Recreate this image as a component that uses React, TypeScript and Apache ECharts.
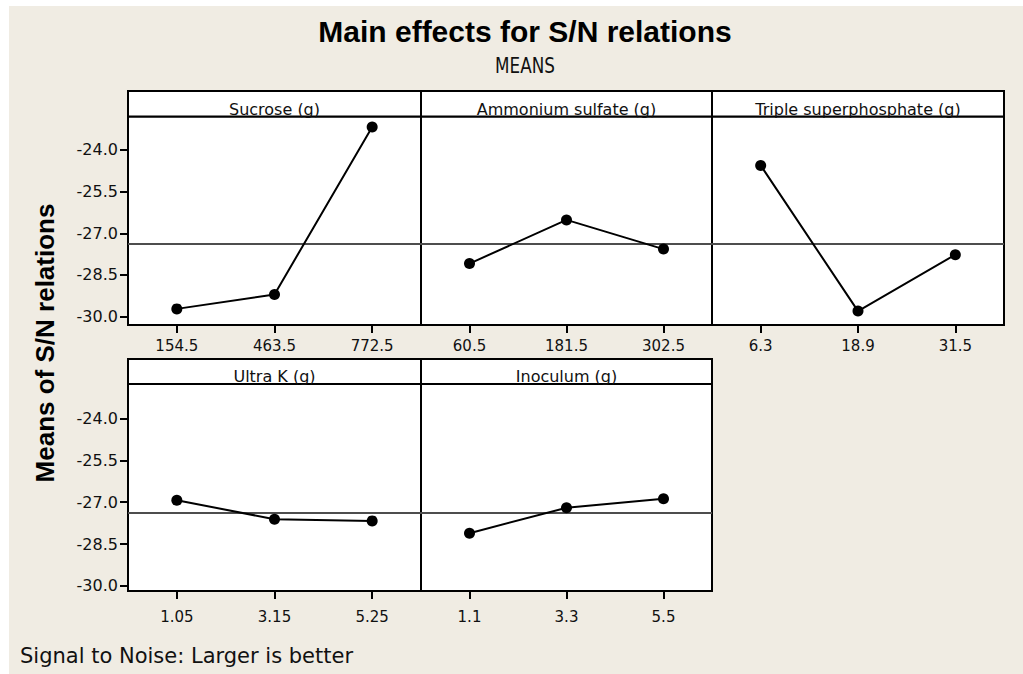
import React, { useEffect, useRef } from "react";
import * as echarts from "echarts";

// Factor names and their three levels
const factorNames = [
  "Sucrose (g)",
  "Ammonium sulfate (g)",
  "Triple superphosphate (g)",
  "Ultra K (g)",
  "Inoculum (g)",
];
const sucroseLevels = ["154.5", "463.5", "772.5"];
const ammoniumLevels = ["60.5", "181.5", "302.5"];
const tripleLevels = ["6.3", "18.9", "31.5"];
const ultraKLevels = ["1.05", "3.15", "5.25"];
const inoculumLevels = ["1.1", "3.3", "5.5"];

// Mean S/N ratio at each level
const sucroseMeans = [-29.72, -29.2, -23.18];
const ammoniumMeans = [-28.09, -26.52, -27.57];
const tripleMeans = [-24.56, -29.8, -27.77];
const ultraKMeans = [-26.93, -27.61, -27.67];
const inoculumMeans = [-28.11, -27.2, -26.88];

// Y tick labels
const yTicks = [-30.0, -28.5, -27.0, -25.5, -24.0];

const levelSets = [sucroseLevels, ammoniumLevels, tripleLevels, ultraKLevels, inoculumLevels];
const meanSets = [sucroseMeans, ammoniumMeans, tripleMeans, ultraKMeans, inoculumMeans];

const allMeans = meanSets.flat();
const grandMean = allMeans.reduce((a, b) => a + b, 0) / allMeans.length;

// Panel layout (pixels)
const COL_X = [128, 421, 712, 1004];
const ROWS = [
  { header: 91, top: 116.5, bottom: 325, min: -30.3, max: -22.8, labelMargin: 13 },
  { header: 359, top: 384, bottom: 591, min: -30.18, max: -22.77, labelMargin: 18 },
];
const panelPos = [
  { col: 0, row: 0 },
  { col: 1, row: 0 },
  { col: 2, row: 0 },
  { col: 0, row: 1 },
  { col: 1, row: 1 },
];

const FONT = "'DejaVu Sans', Verdana, sans-serif";
const BOLD_FONT = "'Liberation Sans', Arial, sans-serif";
const BG = "#f0ece3";

export default function App() {
  const ref = useRef<HTMLDivElement>(null);

  useEffect(() => {
    if (!ref.current) return;
    const chart = echarts.init(ref.current, undefined, { renderer: "svg" });

    const grids: any[] = [];
    const xAxes: any[] = [];
    const yAxes: any[] = [];
    const series: any[] = [];
    const graphics: any[] = [
      { type: "rect", shape: { x: 0, y: 0, width: 1023, height: 6 }, style: { fill: "#fff" }, silent: true },
      { type: "rect", shape: { x: 0, y: 0, width: 9, height: 674 }, style: { fill: "#fff" }, silent: true },
    ];

    panelPos.forEach((p, i) => {
      const r = ROWS[p.row];
      const left = COL_X[p.col];
      const width = COL_X[p.col + 1] - left;
      grids.push({
        left,
        top: r.top,
        width,
        height: r.bottom - r.top,
        show: true,
        backgroundColor: "#fff",
        borderColor: "#000",
        borderWidth: 2,
      });
      xAxes.push({
        type: "category",
        gridIndex: i,
        data: levelSets[i],
        boundaryGap: true,
        axisLine: { show: true, lineStyle: { color: "#000", width: 2 } },
        axisTick: { show: true, alignWithLabel: true, length: 8, lineStyle: { color: "#000", width: 2 } },
        axisLabel: { margin: r.labelMargin, fontSize: 15, color: "#111", fontFamily: FONT },
        splitLine: { show: false },
      });
      const showY = p.col === 0;
      yAxes.push({
        type: "value",
        gridIndex: i,
        min: r.min,
        max: r.max,
        axisLine: { show: showY, lineStyle: { color: "#000", width: 2 } },
        axisTick: { show: showY, length: 8, customValues: yTicks, lineStyle: { color: "#000", width: 2 } },
        axisLabel: {
          show: showY,
          customValues: yTicks,
          margin: 10,
          fontSize: 16,
          color: "#111",
          fontFamily: FONT,
          formatter: (v: number) => v.toFixed(1),
        },
        splitLine: { show: false },
      });
      series.push({
        type: "line",
        xAxisIndex: i,
        yAxisIndex: i,
        data: meanSets[i],
        symbol: "circle",
        symbolSize: 11,
        itemStyle: { color: "#000" },
        lineStyle: { color: "#000", width: 2 },
        markLine: {
          silent: true,
          symbol: "none",
          label: { show: false },
          lineStyle: { color: "#4d4d4d", width: 1.8, type: "solid" },
          data: [{ yAxis: grandMean }],
          z: 1,
        },
        z: 3,
      });
      // header strip with factor name
      graphics.push({
        type: "rect",
        shape: { x: left, y: r.header, width, height: r.top - r.header },
        style: { fill: "#fff", stroke: "#000", lineWidth: 2 },
        z: 1,
      });
      graphics.push({
        type: "text",
        x: left + width / 2,
        y: r.top - 7.5,
        style: {
          text: factorNames[i],
          fontSize: 16,
          fontFamily: FONT,
          fill: "#111",
          align: "center",
          verticalAlign: "middle",
        },
        z: 5,
      });
    });

    // titles
    graphics.push({
      type: "text",
      x: 525,
      y: 31,
      style: {
        text: "Main effects for S/N relations",
        fontSize: 30,
        fontWeight: "bold",
        fontFamily: BOLD_FONT,
        fill: "#000",
        align: "center",
        verticalAlign: "middle",
      },
    });
    graphics.push({
      type: "text",
      x: 525,
      y: 65,
      scaleX: 0.8,
      style: {
        text: "MEANS",
        fontSize: 21,
        fontFamily: FONT,
        fill: "#111",
        align: "center",
        verticalAlign: "middle",
      },
    });
    graphics.push({
      type: "text",
      x: 45,
      y: 343,
      rotation: Math.PI / 2,
      style: {
        text: "Means of S/N relations",
        fontSize: 26,
        fontWeight: "bold",
        fontFamily: BOLD_FONT,
        fill: "#000",
        align: "center",
        verticalAlign: "middle",
      },
    });
    graphics.push({
      type: "text",
      x: 20,
      y: 656,
      style: {
        text: "Signal to Noise: Larger is better",
        fontSize: 21,
        fontFamily: FONT,
        fill: "#111",
        align: "left",
        verticalAlign: "middle",
      },
    });

    chart.setOption({
      animation: false,
      backgroundColor: BG,
      grid: grids,
      xAxis: xAxes,
      yAxis: yAxes,
      series,
      graphic: graphics,
    });

    return () => chart.dispose();
  }, []);

  return (
    <div
      ref={ref}
      style={{ position: "fixed", left: 0, top: 0, width: 1023, height: 674 }}
    />
  );
}
